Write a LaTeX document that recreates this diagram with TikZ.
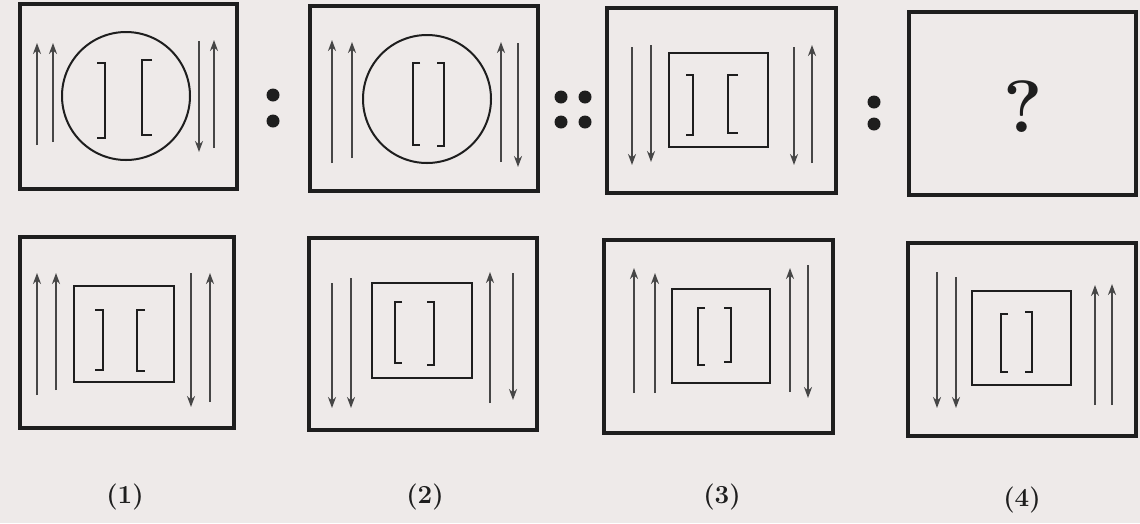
\documentclass[tikz,border=0pt]{standalone}
\usetikzlibrary{arrows.meta}
\definecolor{paper}{RGB}{238,234,233}
\definecolor{ink}{RGB}{30,30,30}
\definecolor{arrink}{RGB}{70,70,70}
\begin{document}
\begin{tikzpicture}[x=1pt,y=-1pt,
 outerbox/.style={draw=ink,line width=3.4pt},
 figshape/.style={draw=ink,line width=2pt},
 arr/.style={draw=arrink,line width=2pt,-{Stealth[length=11pt,width=8pt]}},
 brk/.style={draw=ink,line width=2pt},
 dotmark/.style={fill=ink,circle,inner sep=0pt,minimum size=13pt},
 lbl/.style={font=\fontsize{26}{30}\selectfont\bfseries,text=ink}
]
\fill[paper] (0,0) rectangle (1140,523);
\useasboundingbox (0,0) rectangle (1140,523);

% ---------- Row 1 ----------
% Box 1
\draw[outerbox] (20,4) rectangle (237,189);
\draw[figshape] (126,96) circle[radius=64];
\draw[arr] (37,145) -- (37,43);
\draw[arr] (53,142) -- (53,43);
\draw[arr] (199,41) -- (199,152);
\draw[arr] (214,148) -- (214,40);
\draw[brk] (97,63) -- (105,63) -- (105,138) -- (97,138);
\draw[brk] (152,60) -- (142,60) -- (142,135) -- (152,135);

\node[dotmark] (c1a) at (273,95) {};
\node[dotmark] (c1b) at (273,121) {};

% Box 2
\draw[outerbox] (310,6) rectangle (538,191);
\draw[figshape] (427,99) circle[radius=64];
\draw[arr] (332,163) -- (332,40);
\draw[arr] (352,158) -- (352,42);
\draw[arr] (501,162) -- (501,42);
\draw[arr] (518,43) -- (518,167);
\draw[brk] (420,63) -- (413,63) -- (413,145) -- (420,145);
\draw[brk] (437,63) -- (444,63) -- (444,146) -- (437,146);

\node[dotmark] (c2a) at (561,97) {};
\node[dotmark] (c2b) at (585,97) {};
\node[dotmark] (c2c) at (561,122) {};
\node[dotmark] (c2d) at (585,122) {};

% Box 3
\draw[outerbox] (607,8) rectangle (836,193);
\draw[figshape] (669,53) rectangle (768,147);
\draw[arr] (632,47) -- (632,165);
\draw[arr] (651,45) -- (651,162);
\draw[arr] (794,47) -- (794,165);
\draw[arr] (812,163) -- (812,45);
\draw[brk] (686,75) -- (693,75) -- (693,135) -- (686,135);
\draw[brk] (738,75) -- (728,75) -- (728,133) -- (738,133);

\node[dotmark] (c3a) at (874,102) {};
\node[dotmark] (c3b) at (874,124) {};

% Box 4
\draw[outerbox] (909,12) rectangle (1136,195);
\node[font=\fontsize{74}{80}\selectfont\bfseries,text=ink] (q) at (1023,107) {?};

% ---------- Row 2 ----------
% Option 1
\draw[outerbox] (20,237) rectangle (234,428);
\draw[figshape] (74,286) rectangle (174,382);
\draw[arr] (37,395) -- (37,273);
\draw[arr] (56,390) -- (56,273);
\draw[arr] (191,273) -- (191,407);
\draw[arr] (210,402) -- (210,273);
\draw[brk] (95,310) -- (103,310) -- (103,370) -- (95,370);
\draw[brk] (145,310) -- (137,310) -- (137,371) -- (145,371);

% Option 2
\draw[outerbox] (309,238) rectangle (537,430);
\draw[figshape] (372,283) rectangle (472,378);
\draw[arr] (332,283) -- (332,408);
\draw[arr] (351,278) -- (351,408);
\draw[arr] (490,403) -- (490,272);
\draw[arr] (513,273) -- (513,400);
\draw[brk] (402,302) -- (395,302) -- (395,363) -- (402,363);
\draw[brk] (427,302) -- (434,302) -- (434,365) -- (427,365);

% Option 3
\draw[outerbox] (604,240) rectangle (833,433);
\draw[figshape] (672,289) rectangle (770,383);
\draw[arr] (634,393) -- (634,268);
\draw[arr] (655,393) -- (655,273);
\draw[arr] (790,392) -- (790,268);
\draw[arr] (808,265) -- (808,398);
\draw[brk] (705,308) -- (698,308) -- (698,365) -- (705,365);
\draw[brk] (724,308) -- (731,308) -- (731,362) -- (724,362);

% Option 4
\draw[outerbox] (908,243) rectangle (1136,436);
\draw[figshape] (972,291) rectangle (1071,385);
\draw[arr] (937,272) -- (937,408);
\draw[arr] (956,277) -- (956,408);
\draw[arr] (1095,405) -- (1095,285);
\draw[arr] (1112,405) -- (1112,284);
\draw[brk] (1008,314) -- (1001,314) -- (1001,372) -- (1008,372);
\draw[brk] (1025,312) -- (1032,312) -- (1032,372) -- (1025,372);

% Labels
\node[lbl] (l1) at (125,497) {(1)};
\node[lbl] (l2) at (425,497) {(2)};
\node[lbl] (l3) at (722,497) {(3)};
\node[lbl] (l4) at (1022,500) {(4)};
\end{tikzpicture}
\end{document}
